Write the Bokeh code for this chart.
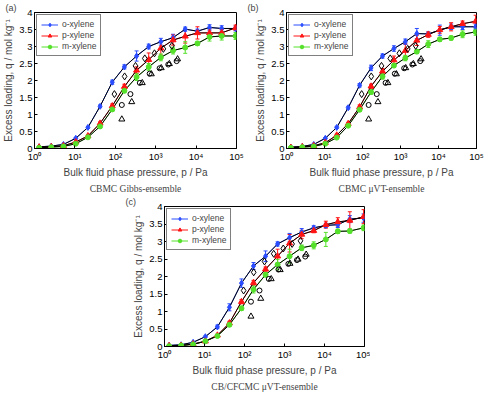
from bokeh.plotting import figure
from bokeh.models import (Range1d, FixedTicker, CustomJSTickFormatter, Title,
                          Legend, LegendItem, ColumnDataSource, Whisker, TeeHead, Spacer)
from bokeh.layouts import column, row
from bokeh.embed import file_html
from bokeh.resources import INLINE

# ---------------- data ----------------
pressure = [1.3, 2.6, 5.2, 10.5, 21, 42, 84, 168, 336, 672, 1340, 2690, 5380, 10800, 21500, 43000, 95000]

a_oxy = [0.05, 0.07, 0.12, 0.30, 0.62, 1.24, 1.95, 2.40, 2.72, 3.00, 3.14, 3.26, 3.51, 3.45, 3.56, 3.53, 3.53]
a_pxy = [0.04, 0.05, 0.08, 0.19, 0.37, 0.74, 1.25, 1.82, 2.30, 2.61, 2.95, 3.19, 3.30, 3.40, 3.40, 3.40, 3.55]
a_mxy = [0.02, 0.04, 0.06, 0.14, 0.33, 0.65, 1.15, 1.70, 2.10, 2.40, 2.68, 2.88, 2.97, 3.09, 3.28, 3.31, 3.31]
a_oxy_err = [0.0, 0.0, 0.01, 0.02, 0.03, 0.04, 0.06, 0.06, 0.15, 0.07, 0.10, 0.10, 0.06, 0.06, 0.08, 0.08, 0.07]
a_pxy_err = [0.0, 0.0, 0.01, 0.02, 0.03, 0.04, 0.06, 0.07, 0.10, 0.20, 0.20, 0.15, 0.20, 0.18, 0.12, 0.10, 0.08]
a_mxy_err = [0.0, 0.0, 0.01, 0.01, 0.02, 0.04, 0.05, 0.06, 0.10, 0.10, 0.10, 0.10, 0.17, 0.06, 0.12, 0.12, 0.10]

b_oxy = [0.04, 0.06, 0.12, 0.30, 0.62, 1.20, 1.86, 2.37, 2.72, 2.94, 3.14, 3.38, 3.37, 3.48, 3.58, 3.58, 3.58]
b_pxy = [0.03, 0.05, 0.08, 0.17, 0.39, 0.73, 1.22, 1.83, 2.27, 2.60, 2.88, 3.18, 3.35, 3.49, 3.58, 3.67, 3.74]
b_mxy = [0.02, 0.04, 0.06, 0.14, 0.32, 0.67, 1.14, 1.66, 2.12, 2.44, 2.66, 2.85, 3.07, 3.21, 3.25, 3.36, 3.43]
b_oxy_err = [0.0, 0.0, 0.01, 0.02, 0.03, 0.04, 0.05, 0.08, 0.06, 0.08, 0.08, 0.15, 0.05, 0.15, 0.08, 0.08, 0.08]
b_pxy_err = [0.0, 0.0, 0.01, 0.02, 0.03, 0.04, 0.06, 0.06, 0.08, 0.12, 0.20, 0.15, 0.08, 0.10, 0.12, 0.08, 0.18]
b_mxy_err = [0.0, 0.0, 0.01, 0.01, 0.02, 0.03, 0.05, 0.06, 0.08, 0.06, 0.08, 0.06, 0.10, 0.06, 0.06, 0.10, 0.10]

c_oxy = [0.03, 0.05, 0.12, 0.28, 0.56, 1.12, 1.81, 2.30, 2.58, 2.93, 3.11, 3.27, 3.39, 3.46, 3.48, 3.64, 3.67]
c_pxy = [0.02, 0.03, 0.07, 0.15, 0.32, 0.67, 1.28, 1.82, 2.21, 2.58, 2.95, 3.20, 3.31, 3.48, 3.56, 3.60, 3.71]
c_mxy = [0.01, 0.03, 0.06, 0.15, 0.30, 0.62, 1.09, 1.63, 2.05, 2.34, 2.58, 2.82, 2.89, 3.06, 3.29, 3.30, 3.39]
c_oxy_err = [0.0, 0.0, 0.01, 0.02, 0.05, 0.10, 0.12, 0.10, 0.15, 0.06, 0.12, 0.10, 0.06, 0.06, 0.08, 0.10, 0.12]
c_pxy_err = [0.0, 0.0, 0.01, 0.02, 0.03, 0.05, 0.06, 0.07, 0.06, 0.20, 0.25, 0.12, 0.06, 0.10, 0.12, 0.25, 0.20]
c_mxy_err = [0.0, 0.0, 0.01, 0.01, 0.02, 0.04, 0.06, 0.10, 0.06, 0.15, 0.20, 0.08, 0.10, 0.20, 0.06, 0.06, 0.08]

exp_diamond_p = [95, 170, 316, 537, 933, 1550, 2510]
exp_diamond_q = [1.60, 2.12, 2.43, 2.65, 2.80, 2.93, 3.02]
exp_circle_p = [145, 237, 405, 708, 1250, 2050, 3300]
exp_circle_q = [1.28, 1.60, 1.93, 2.20, 2.36, 2.47, 2.57]
exp_triangle_p = [145, 255, 465, 780, 1370, 2180, 3480]
exp_triangle_q = [0.86, 1.37, 1.93, 2.19, 2.37, 2.49, 2.63]

x_ticks = [1, 10, 100, 1000, 10000, 100000]
y_ticks = [0, 0.5, 1, 1.5, 2, 2.5, 3, 3.5, 4]
series_names = ["o-xylene", "p-xylene", "m-xylene"]
series_colors = ["#2a4cff", "#ff1414", "#55e02a"]
series_markers = ["diamond", "triangle", "circle"]

SANS = "Liberation Sans"
SERIF = "Liberation Serif"


def make_panel(tag, caption, ys, errs, width, height, bl, br, bt, bb):
    p = figure(width=width, height=height, x_axis_type="log",
               x_range=Range1d(1, 1e5), y_range=Range1d(0, 4),
               output_backend="svg", toolbar_location=None,
               min_border_left=bl, min_border_right=br,
               min_border_top=bt, min_border_bottom=bb)
    p.grid.visible = False
    p.outline_line_color = "black"
    p.outline_line_width = 1
    p.background_fill_color = "white"
    p.border_fill_color = "white"

    p.xaxis.ticker = FixedTicker(ticks=x_ticks, minor_ticks=[])
    p.xaxis.formatter = CustomJSTickFormatter(code="""
        const s = ['\u2070','\u00b9','\u00b2','\u00b3','\u2074','\u2075','\u2076'];
        const e = Math.round(Math.log10(tick));
        return '10' + s[e];
    """)
    p.yaxis.ticker = FixedTicker(ticks=y_ticks, minor_ticks=[])
    p.yaxis.formatter = CustomJSTickFormatter(code="return tick.toString();")
    for ax in (p.xaxis[0], p.yaxis[0]):
        ax.major_tick_in = 3
        ax.major_tick_out = 0
        ax.minor_tick_in = 0
        ax.minor_tick_out = 0
        ax.major_label_text_font = SANS
        ax.major_label_text_font_size = "9.5px"
        ax.major_label_text_color = "black"
        ax.major_label_standoff = 2
        ax.axis_label_text_font = SANS
        ax.axis_label_text_font_size = "10px"
        ax.axis_label_text_font_style = "normal"
        ax.axis_label_standoff = 2
        ax.axis_line_color = "black"
        ax.major_tick_line_color = "black"
    p.xaxis.axis_label = "Bulk fluid phase pressure, p / Pa"
    p.yaxis.axis_label = "Excess loading, q / mol kg\u207b\u00b9"

    p.add_layout(Title(text=caption, align="center", text_font=SERIF,
                       text_font_size="9.5px", text_font_style="normal",
                       standoff=2), "below")
    p.add_layout(Title(text=tag, align="left", offset=-(bl - 1), text_font=SANS,
                       text_font_size="9px", text_font_style="normal",
                       standoff=0), "above")

    legend_items = []
    for name, col, mk, yv, ev in zip(series_names, series_colors, series_markers, ys, errs):
        lo = [a - b for a, b in zip(yv, ev)]
        up = [a + b for a, b in zip(yv, ev)]
        src = ColumnDataSource(dict(x=pressure, y=yv, lo=lo, up=up))
        cl = p.line("x", "y", source=src, line_color=col, line_width=1)
        legend_items.append((name, col, mk, cl, src))
    for name, col, mk, cl, src in legend_items:
        p.line("x", "y", source=src, line_color="black", line_width=1)
    for name, col, mk, cl, src in legend_items:
        w = Whisker(source=src, base="x", lower="lo", upper="up", dimension="height",
                    line_color=col, line_width=1,
                    upper_head=TeeHead(size=4, line_color=col, line_width=1),
                    lower_head=TeeHead(size=4, line_color=col, line_width=1))
        p.add_layout(w)
    items = []
    for name, col, mk, cl, src in legend_items:
        sz = 5 if mk == "circle" else 6
        r = p.scatter("x", "y", source=src, marker=mk, size=sz,
                      fill_color=col, line_color=col)
        items.append(LegendItem(label=name, renderers=[cl, r]))

    p.scatter(exp_diamond_p, exp_diamond_q, marker="diamond", size=7,
              fill_color=None, line_color="black", line_width=1)
    p.scatter(exp_circle_p, exp_circle_q, marker="circle", size=5,
              fill_color=None, line_color="black", line_width=1)
    p.scatter(exp_triangle_p, exp_triangle_q, marker="triangle", size=6,
              fill_color=None, line_color="black", line_width=1)

    leg = Legend(items=items, location="top_left",
                 label_text_font=SANS, label_text_font_size="8.5px",
                 label_height=9, glyph_height=9, glyph_width=17,
                 label_standoff=4, spacing=1, padding=4, margin=2,
                 border_line_color="black", border_line_width=1,
                 background_fill_alpha=1)
    p.add_layout(leg)
    return p


pa = make_panel("(a)", "CBMC Gibbs-ensemble", [a_oxy, a_pxy, a_mxy],
                [a_oxy_err, a_pxy_err, a_mxy_err], 246, 194, 30, 10, 0, 45)
pb = make_panel("(b)", "CBMC \u03bcVT-ensemble", [b_oxy, b_pxy, b_mxy],
                [b_oxy_err, b_pxy_err, b_mxy_err], 238, 194, 40, 8, 0, 45)
pc = make_panel("(c)", "CB/CFCMC \u03bcVT-ensemble", [c_oxy, c_pxy, c_mxy],
                [c_oxy_err, c_pxy_err, c_mxy_err], 246, 198, 40, 6, 0, 45)

layout = column(row(pa, pb), row(Spacer(width=124, height=198), pc))

open("out.html", "w").write(file_html(layout, INLINE))
